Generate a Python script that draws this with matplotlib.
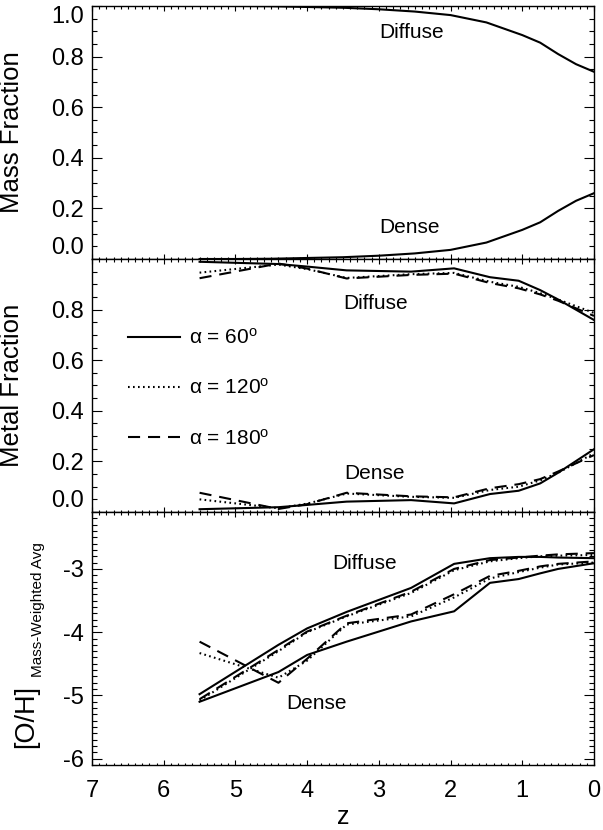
import numpy as np
import matplotlib
matplotlib.use("Agg")
import matplotlib.pyplot as plt
from matplotlib.ticker import MultipleLocator

plt.rcParams['font.family'] = ['Liberation Sans', 'DejaVu Sans']
plt.rcParams['mathtext.fontset'] = 'custom'
plt.rcParams['mathtext.rm'] = 'Liberation Sans'
plt.rcParams['mathtext.it'] = 'Liberation Sans:italic'
plt.rcParams['axes.unicode_minus'] = False

# --- data ---
# top panel: mass fraction (smooth curve)
z_mass = [5.5, 5.0, 4.5, 4.0, 3.5, 3.0, 2.5, 2.0, 1.5, 1.0, 0.75, 0.5, 0.25, 0.0]
mass_diffuse = [1.0, 1.0, 0.999, 0.996, 0.993, 0.987, 0.978, 0.964, 0.935, 0.885, 0.855, 0.81, 0.77, 0.74]
mass_dense = [0.0, 0.0, 0.001, 0.004, 0.007, 0.013, 0.022, 0.036, 0.065, 0.115, 0.145, 0.19, 0.23, 0.26]

# snapshots used in the metal panels
z_snap = [5.5, 4.4, 4.0, 3.45, 2.55, 1.95, 1.45, 1.05, 0.75, 0.5, 0.0]

# metal fraction, alpha = 60, 120, 180
metal_diffuse_60 = [0.989, 0.98, 0.97, 0.955, 0.95, 0.963, 0.928, 0.914, 0.877, 0.84, 0.759]
metal_diffuse_120 = [0.946, 0.978, 0.96, 0.925, 0.94, 0.945, 0.91, 0.89, 0.865, 0.84, 0.787]
metal_diffuse_180 = [0.924, 0.982, 0.962, 0.923, 0.937, 0.942, 0.905, 0.884, 0.86, 0.835, 0.775]
metal_dense_60 = [0.011, 0.019, 0.028, 0.041, 0.047, 0.034, 0.071, 0.084, 0.113, 0.155, 0.248]
metal_dense_120 = [0.05, 0.015, 0.033, 0.073, 0.06, 0.056, 0.087, 0.10, 0.125, 0.155, 0.232]
metal_dense_180 = [0.076, 0.012, 0.031, 0.076, 0.062, 0.058, 0.094, 0.11, 0.13, 0.16, 0.225]

# [O/H] mass weighted average
oh_diffuse_60 = [-4.98, -4.2, -3.94, -3.68, -3.3, -2.92, -2.83, -2.81, -2.81, -2.82, -2.83]
oh_diffuse_120 = [-5.08, -4.3, -4.0, -3.75, -3.38, -3.02, -2.88, -2.83, -2.8, -2.79, -2.78]
oh_diffuse_180 = [-5.06, -4.28, -3.99, -3.74, -3.36, -3.0, -2.86, -2.82, -2.79, -2.77, -2.75]
oh_dense_60 = [-5.1, -4.63, -4.36, -4.15, -3.83, -3.67, -3.22, -3.16, -3.07, -3.0, -2.91]
oh_dense_120 = [-4.33, -4.72, -4.45, -3.88, -3.75, -3.45, -3.15, -3.05, -2.98, -2.93, -2.9]
oh_dense_180 = [-4.15, -4.8, -4.42, -3.86, -3.72, -3.40, -3.11, -3.03, -2.96, -2.92, -2.88]

alpha_labels = ['\u03b1 = 60$^{\\rm o}$', '\u03b1 = 120$^{\\rm o}$', '\u03b1 = 180$^{\\rm o}$']

LW = 1.5
styles = ['-', (0, (0.8, 1.6)), (0, (5.8, 3.8))]

fig, axes = plt.subplots(3, 1, figsize=(6.03, 8.30), dpi=100, sharex=True)
fig.subplots_adjust(left=0.1526, right=0.985, top=0.9928, bottom=0.0783, hspace=0)
ax1, ax2, ax3 = axes

# top panel
ax1.plot(z_mass, mass_diffuse, color='black', lw=LW)
ax1.plot(z_mass, mass_dense, color='black', lw=LW)
ax1.text(3.0, 0.895, 'Diffuse', fontsize=15, ha='left', va='center')
ax1.text(3.0, 0.123, 'Dense', fontsize=15, ha='left', va='center')
ax1.set_ylim(0, 1.0)
ax1.set_yticks([0.0, 0.2, 0.4, 0.6, 0.8, 1.0])
ax1.set_yticklabels(['0.0', '0.2', '0.4', '0.6', '0.8', '1.0'])
ax1.yaxis.set_minor_locator(MultipleLocator(0.05))
ax1.set_ylabel('Mass Fraction', fontsize=18.5)

# middle panel
diff_sets = [metal_diffuse_60, metal_diffuse_120, metal_diffuse_180]
dense_sets = [metal_dense_60, metal_dense_120, metal_dense_180]
handles = []
for d, s, ls, lab in zip(diff_sets, dense_sets, styles, alpha_labels):
    h, = ax2.plot(z_snap, d, color='black', lw=LW, linestyle=ls, label=lab)
    ax2.plot(z_snap, s, color='black', lw=LW, linestyle=ls)
    handles.append(h)
ax2.text(3.49, 0.826, 'Diffuse', fontsize=15, ha='left', va='center')
ax2.text(3.48, 0.154, 'Dense', fontsize=15, ha='left', va='center')
ax2.set_ylim(0, 1.0)
ax2.set_yticks([0.0, 0.2, 0.4, 0.6, 0.8])
ax2.set_yticklabels(['0.0', '0.2', '0.4', '0.6', '0.8'])
ax2.yaxis.set_minor_locator(MultipleLocator(0.05))
ax2.set_ylabel('Metal Fraction', fontsize=18.5)
ax2.legend(handles=handles, loc='center left', bbox_to_anchor=(0.072, 0.49),
           frameon=False, fontsize=15, handlelength=2.5, handletextpad=0.4,
           labelspacing=1.45, borderpad=0, borderaxespad=0)

# bottom panel
oh_diff = [oh_diffuse_60, oh_diffuse_120, oh_diffuse_180]
oh_dense = [oh_dense_60, oh_dense_120, oh_dense_180]
for d, s, ls in zip(oh_diff, oh_dense, styles):
    ax3.plot(z_snap, d, color='black', lw=LW, linestyle=ls)
    ax3.plot(z_snap, s, color='black', lw=LW, linestyle=ls)
ax3.text(3.65, -2.91, 'Diffuse', fontsize=15, ha='left', va='center')
ax3.text(4.29, -5.12, 'Dense', fontsize=15, ha='left', va='center')
ax3.set_ylim(-6.1, -2.1)
ax3.set_yticks([-6, -5, -4, -3])
ax3.set_yticklabels(['-6', '-5', '-4', '-3'])
ax3.yaxis.set_minor_locator(MultipleLocator(0.1))

# y label of the bottom panel, drawn as two rotated texts
fig.text(26 / 603, 1 - 748 / 830, '[O/H]', rotation=90, fontsize=19.5, ha='center', va='bottom')
fig.text(38 / 603, 1 - 677 / 830, 'Mass-Weighted Avg', rotation=90, fontsize=11, ha='center', va='bottom')

# x axis
ax3.set_xlim(7, 0)
ax3.set_xticks([7, 6, 5, 4, 3, 2, 1, 0])
ax3.set_xticklabels(['7', '6', '5', '4', '3', '2', '1', '0'])
ax3.xaxis.set_minor_locator(MultipleLocator(0.1))
ax3.set_xlabel('z', fontsize=18, labelpad=2)

for ax in axes:
    for sp in ax.spines.values():
        sp.set_linewidth(1.0)
    ax.tick_params(which='both', direction='in', top=True, right=True, width=0.8, labelsize=17)
    ax.tick_params(axis='y', which='major', length=7, pad=6)
    ax.tick_params(axis='y', which='minor', length=3.5)
    ax.tick_params(axis='x', which='major', length=3.5, pad=11)
    ax.tick_params(axis='x', which='minor', length=1.8)
    ax.yaxis.set_label_coords(-0.135, 0.5)

# end labels pushed inside the panel like the original
lbl = ax1.get_yticklabels()
lbl[-1].set_va('top')
lbl[0].set_va('bottom')
lbl = ax2.get_yticklabels()
lbl[0].set_va('bottom')

fig.savefig('out.png', dpi=100)
